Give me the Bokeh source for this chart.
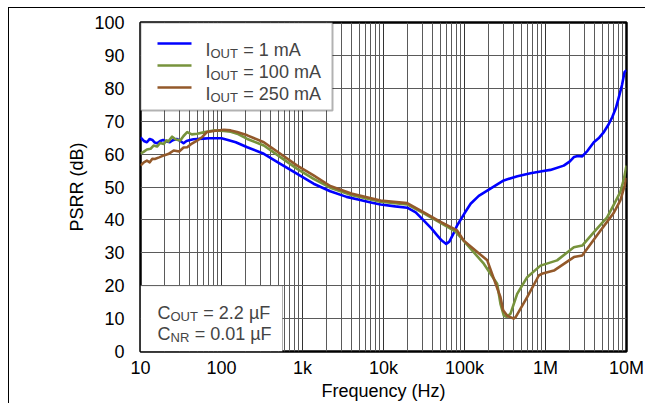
import numpy as np
from bokeh.plotting import figure
from bokeh.models import FixedTicker, BoxAnnotation, Label, Range1d
from bokeh.embed import file_html
from bokeh.resources import INLINE

# ---------------- data ----------------
freq_1mA = [10, 11, 12, 13, 14, 15, 16, 17.5, 19, 21, 23, 25, 28, 31, 34, 37, 41, 45, 50,
            60, 70, 80, 100, 120, 150, 208, 333, 533, 860, 1370, 2200, 3500, 5000, 7000,
            9200, 14000, 19600, 25000, 31500, 39000, 46000, 52000, 59400, 65000, 72000,
            81000, 100000, 119000, 150000, 209000, 305000, 450000, 653000, 900000,
            1150000, 1680000, 2000000, 2240000, 2500000, 2840000, 3300000, 3950000,
            4600000, 5250000, 6000000, 6660000, 7400000, 8050000, 8800000, 9450000, 10000000]
psrr_1mA = [65.1, 64.0, 63.6, 64.6, 64.3, 63.5, 63.3, 64.0, 64.3, 63.8, 63.6, 64.2, 64.6, 64.0,
            63.3, 64.0, 64.3, 64.5, 64.6, 64.7, 64.8, 64.8, 64.8, 64.3, 63.6, 62.1, 60.1,
            57.0, 54.0, 51.0, 48.7, 47.0, 46.1, 45.3, 44.7, 44.1, 43.7, 42.3, 39.8, 37.4,
            35.3, 33.8, 32.7, 33.4, 35.5, 38.3, 42.0, 44.9, 47.3, 49.5, 52.0, 53.3, 54.2,
            54.8, 55.2, 56.5, 57.8, 59.1, 59.4, 59.3, 61.0, 63.6, 65.0, 66.7, 69.0, 71.2,
            74.0, 77.3, 81.0, 84.9, 85.5]

freq_100mA = [10, 10.8, 12, 13.3, 14.5, 16, 17.5, 19.4, 21, 22, 24.6, 27, 29, 31, 34, 37.7,
              43, 50, 60, 80, 107, 130, 156, 208, 333, 533, 860, 1370, 2200, 4000, 9200,
              19600, 31500, 50000, 77000, 98000, 173000, 253000, 278000, 306000, 330000,
              370000, 447000, 594000, 867000, 1390000, 2240000, 2840000, 4140000, 5760000,
              6900000, 8400000, 9300000, 10000000]
psrr_100mA = [60.2, 60.6, 61.4, 61.6, 62.6, 62.3, 63.4, 63.1, 64.2, 63.8, 65.3, 64.5, 64.3,
              64.1, 65.5, 66.7, 66.0, 66.2, 66.6, 67.2, 67.0, 66.8, 66.2, 64.6, 62.6, 59.1,
              55.5, 52.5, 49.8, 47.6, 45.5, 44.7, 42.0, 39.2, 36.5, 33.6, 26.7, 20.6, 14.5,
              10.9, 10.5, 11.5, 17.5, 22.6, 26.1, 27.7, 31.7, 32.2, 36.8, 40.8, 44.4, 48.5,
              52.5, 56.5]

freq_250mA = [10, 11, 12, 13, 14, 15, 17, 19.4, 22, 25.7, 30, 34, 37.7, 42, 50, 58, 66, 80,
              107, 130, 156, 208, 333, 533, 860, 1370, 2200, 4000, 9200, 19600, 31500,
              50000, 81000, 98000, 191000, 278000, 300000, 340000, 406000, 430000, 594000,
              827000, 900000, 1270000, 2240000, 2840000, 4780000, 6000000, 6900000, 8400000,
              9500000, 10000000]
psrr_250mA = [56.5, 57.5, 58.0, 57.5, 58.6, 58.5, 59.0, 59.6, 60.0, 61.1, 60.8, 62.0, 62.1,
              63.0, 64.1, 65.2, 66.7, 67.0, 67.4, 67.2, 66.7, 65.7, 63.6, 60.1, 56.5, 53.5,
              50.3, 48.0, 45.9, 45.1, 42.3, 39.5, 36.8, 33.7, 27.7, 16.5, 12.5, 10.8, 10.0,
              10.5, 16.5, 23.1, 23.6, 24.6, 28.7, 29.2, 36.8, 40.0, 42.0, 45.9, 50.5, 52.8]

series_labels_main = ["I", "I", "I"]
series_labels_sub = ["OUT", "OUT", "OUT"]
series_labels_rest = ["= 1 mA", "= 100 mA", "= 250 mA"]
series_colors = ["#0000FF", "#77933C", "#93592A"]

x_ticks = [10, 100, 1000, 10000, 100000, 1000000, 10000000]
x_tick_labels = ["10", "100", "1k", "10k", "100k", "1M", "10M"]
y_ticks = list(range(0, 101, 10))

note_main = ["C", "C"]
note_sub = ["OUT", "NR"]
note_rest = ["= 2.2 \u00b5F", "= 0.01 \u00b5F"]

x_title = "Frequency (Hz)"
y_title = "PSRR (dB)"
fig_code = "G001"

# ---------------- layout (page pixels) ----------------
FONT = "Liberation Sans"
MAIN_PX, SUB_PX = 18, 13
CANVAS_X0, CANVAS_Y0 = 9, 8          # after 8/7 px margin + 1 px page frame line
FRAME_L, FRAME_R, FRAME_T, FRAME_B = 140, 626, 22, 351
X_MIN, X_MAX, Y_MIN, Y_MAX = 10, 1e7, 0, 100

def px_to_x(px):
    lo, hi = np.log10(X_MIN), np.log10(X_MAX)
    return float(10 ** (lo + (px - FRAME_L) / (FRAME_R - FRAME_L) * (hi - lo)))

def px_to_y(py):
    return Y_MAX - (py - FRAME_T) / (FRAME_B - FRAME_T) * (Y_MAX - Y_MIN)

WIDTHS = {"I": .278, "C": .722, "O": .778, "U": .722, "T": .611, "N": .722, "R": .722}

def text_width(s, size):
    return sum(WIDTHS.get(ch, .556) for ch in s) * size

W, H = 637, 396
p = figure(width=W, height=H, x_axis_type="log",
           x_range=Range1d(X_MIN, X_MAX), y_range=Range1d(Y_MIN, Y_MAX),
           output_backend="svg", toolbar_location=None,
           min_border_left=FRAME_L - CANVAS_X0, min_border_right=CANVAS_X0 + W - FRAME_R,
           min_border_top=FRAME_T - CANVAS_Y0, min_border_bottom=CANVAS_Y0 + H - FRAME_B)
p.styles = {"margin-left": "8px", "margin-top": "7px",
            "border-left": "1px solid black", "border-top": "1px solid black"}
p.background_fill_color = "white"
p.border_fill_color = "white"
p.outline_line_color = "black"
p.outline_line_width = 2.5

minor = [m * 10 ** d for d in range(1, 7) for m in range(2, 10)]
p.xaxis.ticker = FixedTicker(ticks=x_ticks, minor_ticks=minor)
p.xaxis.major_label_overrides = {float(t): l for t, l in zip(x_ticks, x_tick_labels)}
p.yaxis.ticker = FixedTicker(ticks=y_ticks)

for ax in (p.xaxis[0], p.yaxis[0]):
    ax.axis_line_color = None
    ax.major_tick_line_color = None
    ax.minor_tick_line_color = None
    ax.major_label_text_font = FONT
    ax.major_label_text_font_size = f"{MAIN_PX}px"
    ax.major_label_text_color = "black"
    ax.axis_label_text_font = FONT
    ax.axis_label_text_font_size = f"{MAIN_PX}px"
    ax.axis_label_text_font_style = "normal"
    ax.axis_label_text_color = "black"
p.xaxis.major_label_standoff = 0
p.xaxis.axis_label = x_title
p.xaxis.axis_label_standoff = 0
p.yaxis.major_label_standoff = 10
p.yaxis.axis_label = y_title
p.yaxis.axis_label_standoff = 4

p.xgrid.grid_line_color = "#333333"
p.xgrid.minor_grid_line_color = "#5a5a5a"
p.ygrid.grid_line_color = "#5a5a5a"
p.xgrid.grid_line_width = 1
p.ygrid.grid_line_width = 1

for f, v, c in zip([freq_1mA, freq_100mA, freq_250mA],
                   [psrr_1mA, psrr_100mA, psrr_250mA], series_colors):
    p.line(f, v, line_color=c, line_width=2.6, line_join="round")

# legend box
p.add_layout(BoxAnnotation(left=X_MIN, right=px_to_x(332), top=Y_MAX, bottom=px_to_y(110),
                           fill_color="white", fill_alpha=1.0, line_color="black",
                           line_width=2, level="annotation"))
# condition box
p.add_layout(BoxAnnotation(left=X_MIN, right=px_to_x(282), top=20, bottom=Y_MIN,
                           fill_color="white", fill_alpha=1.0, line_color="black",
                           line_width=1, level="annotation"))

def sub_label(x_px, base_px, main, sub, rest):
    x1 = x_px + text_width(main, MAIN_PX)
    x2 = x1 + text_width(sub, SUB_PX) + 0.3 * MAIN_PX
    p.add_layout(Label(x=px_to_x(x_px), y=px_to_y(base_px), text=main, text_font=FONT,
                       text_font_size=f"{MAIN_PX}px", text_baseline="alphabetic", level="overlay"))
    p.add_layout(Label(x=px_to_x(x1), y=px_to_y(base_px + 3.5), text=sub, text_font=FONT,
                       text_font_size=f"{SUB_PX}px", text_baseline="alphabetic", level="overlay"))
    p.add_layout(Label(x=px_to_x(x2), y=px_to_y(base_px), text=rest, text_font=FONT,
                       text_font_size=f"{MAIN_PX}px", text_baseline="alphabetic", level="overlay"))

row_base = [49.5, 71.5, 93.5]
for i in range(3):
    yy = px_to_y(row_base[i] - 6.5)
    p.segment(x0=[px_to_x(157)], y0=[yy], x1=[px_to_x(191)], y1=[yy],
              line_color=series_colors[i], line_width=2.6, level="overlay")
    sub_label(205, row_base[i], series_labels_main[i], series_labels_sub[i], series_labels_rest[i])

note_base = [312, 333]
for i in range(2):
    sub_label(157, note_base[i], note_main[i], note_sub[i], note_rest[i])

# figure code, anchored on the frame's bottom edge and pushed down into the margin
p.add_layout(Label(x=px_to_x(620), y=Y_MIN, y_offset=-46, text=fig_code, text_font=FONT,
                   text_font_size="9px", text_color="black", text_baseline="alphabetic"))

open("out.html", "w").write(file_html(p, INLINE))
